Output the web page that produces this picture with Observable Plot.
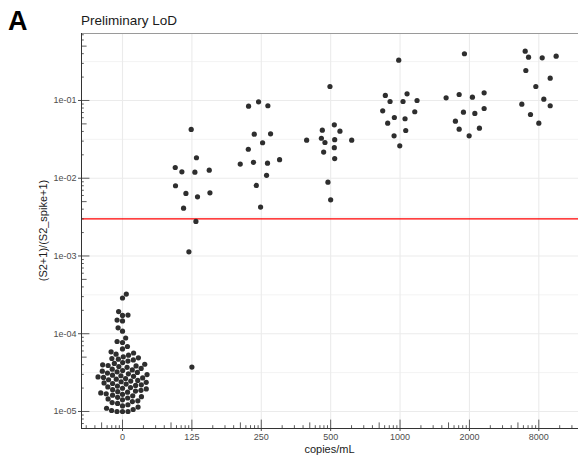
<!DOCTYPE html>
<html><head><meta charset="utf-8">
<script src="https://cdn.jsdelivr.net/npm/d3@7"></script>
<script src="https://cdn.jsdelivr.net/npm/@observablehq/plot@0.6"></script>
<style>
body{margin:0;background:#fff;}
#wrap{width:578px;height:456px;}
</style></head><body>
<div id="wrap"></div>
<script>
// ---------- data ----------
const categories = ["0", "125", "250", "500", "1000", "2000", "8000"];
const yTicks = [1e-5, 1e-4, 1e-3, 1e-2, 1e-1];
const yTickLabels = ["1e-05", "1e-04", "1e-03", "1e-02", "1e-01"];
const lod = 0.003;

// category "0" (beeswarm)
const vals0 = [
  3.24e-4, 2.88e-4, 1.93e-4, 1.74e-4, 1.72e-4, 1.50e-4, 1.46e-4, 1.19e-4, 1.08e-4,
  8.81e-5, 7.94e-5, 7.71e-5, 6.85e-5, 6.37e-5,
  5.85e-5, 5.65e-5, 5.45e-5, 5.3e-5,
  5.05e-5, 4.9e-5, 4.8e-5, 4.7e-5, 4.6e-5, 4.45e-5,
  4.25e-5, 4.15e-5, 4.05e-5, 3.98e-5, 3.9e-5, 3.85e-5, 3.78e-5, 3.7e-5,
  3.58e-5, 3.5e-5, 3.42e-5, 3.36e-5, 3.3e-5, 3.24e-5, 3.18e-5, 3.12e-5, 3.05e-5,
  2.98e-5, 2.93e-5, 2.88e-5, 2.83e-5, 2.78e-5, 2.74e-5, 2.7e-5, 2.65e-5, 2.6e-5, 2.56e-5,
  2.51e-5, 2.46e-5, 2.41e-5, 2.37e-5, 2.33e-5, 2.29e-5, 2.25e-5, 2.2e-5, 2.16e-5, 2.12e-5,
  2.07e-5, 2.03e-5, 1.99e-5, 1.95e-5, 1.91e-5, 1.87e-5, 1.83e-5, 1.8e-5, 1.77e-5,
  1.73e-5, 1.69e-5, 1.66e-5, 1.62e-5, 1.59e-5, 1.55e-5, 1.52e-5, 1.49e-5,
  1.45e-5, 1.41e-5, 1.37e-5, 1.34e-5, 1.3e-5, 1.27e-5,
  1.22e-5, 1.18e-5, 1.14e-5, 1.1e-5,
  1.06e-5, 1.03e-5, 1.0e-5, 1.0e-5, 1.0e-5
];

const vals125 = [0.0424, 0.01833, 0.01374, 0.0121, 0.01197, 0.0127, 0.008, 0.00637, 0.00577, 0.0065, 0.00412, 0.00278, 0.00113, 3.72e-5];
const jit125  = [-0.01, 0.066, -0.24, -0.144, 0.043, 0.25, -0.236, -0.086, 0.081, 0.26, -0.12, 0.058, -0.043, 0.0];

const vals250 = [0.0962, 0.0845, 0.0855, 0.0369, 0.0373, 0.0286, 0.0236, 0.0152, 0.016, 0.0156, 0.0173, 0.0109, 0.00807, 0.00425];
const jit250  = [-0.039, -0.183, 0.095, -0.101, 0.134, 0.019, -0.187, -0.303, -0.112, 0.09, 0.264, 0.076, -0.072, -0.01];

const vals500 = [0.1514, 0.0487, 0.0403, 0.0415, 0.0327, 0.0288, 0.0313, 0.0309, 0.0309, 0.0247, 0.0217, 0.0179, 0.00889, 0.00528];
const jit500  = [-0.01, 0.053, 0.134, -0.12, -0.134, -0.082, 0.058, -0.346, 0.303, 0.053, -0.101, 0.058, -0.039, 0.0];

const vals1000 = [0.33, 0.116, 0.1219, 0.0971, 0.0971, 0.1, 0.0737, 0.0716, 0.0604, 0.0582, 0.0511, 0.0411, 0.0351, 0.0261];
const jit1000  = [-0.019, -0.212, 0.101, -0.144, 0.043, 0.245, -0.25, 0.212, -0.082, 0.072, -0.178, 0.082, -0.086, -0.004];

const vals2000 = [0.399, 0.1083, 0.1194, 0.1102, 0.1256, 0.0789, 0.0707, 0.0681, 0.0542, 0.0428, 0.0441, 0.0351];
const jit2000  = [-0.072, -0.336, -0.148, 0.043, 0.212, 0.212, -0.086, 0.078, -0.202, -0.148, 0.144, -0.004];

const vals8000 = [0.431, 0.361, 0.354, 0.371, 0.243, 0.1936, 0.1514, 0.1039, 0.0896, 0.0855, 0.066, 0.0511];
const jit8000  = [-0.196, -0.148, 0.049, 0.25, -0.187, 0.164, -0.043, 0.072, -0.245, 0.164, -0.12, 0.0];

// ---------- layout ----------
const W = 578, H = 456, mt = 33, mb = 28, ml = 81, mr = 0;
const xDomain = [-0.591, 6.572];
const yDomain = [6.04e-6, 0.727];
const step = (W - ml - mr) / (xDomain[1] - xDomain[0]);
const decPx = (H - mb - mt) / Math.log10(yDomain[1] / yDomain[0]);
const yS = Plot.scale({y: {type: "log", domain: yDomain, range: [H - mb, mt]}});

// beeswarm for category 0
const dia = 5.5;
const sw = vals0.map(v => ({v, py: yS.apply(v)})).sort((a, b) => b.py - a.py);
const placed = [];
sw.forEach((p, idx) => {
  const pref = idx % 2 === 0 ? 1 : -1;
  const cands = [0];
  for (const q of placed) {
    const dy = Math.abs(q.py - p.py);
    if (dy < dia) { const o = Math.sqrt(dia * dia - dy * dy); cands.push(q.px + o, q.px - o); }
  }
  cands.sort((a, b) => (Math.abs(a) - Math.abs(b)) || (Math.sign(b) * pref - Math.sign(a) * pref));
  for (const c of cands) {
    if (placed.every(q => (q.px - c) ** 2 + (q.py - p.py) ** 2 >= dia * dia - 1e-6)) { p.px = c; break; }
  }
  placed.push(p);
});

const points = [];
for (const p of sw) points.push({x: 0 + p.px / step, v: p.v});
const groups = [[vals125, jit125], [vals250, jit250], [vals500, jit500], [vals1000, jit1000], [vals2000, jit2000], [vals8000, jit8000]];
groups.forEach(([vals, jit], g) => vals.forEach((v, j) => points.push({x: g + 1 + jit[j], v})));

// grid lines
const catIdx = categories.map((c, i) => i);
const gridMajor = [], gridMinor = [];
for (let k = -6; k <= 0; k++) {
  const a = Math.pow(10, k), b = Math.pow(10, k + 0.5);
  if (a >= yDomain[0] && a <= yDomain[1]) gridMajor.push(a);
  if (b >= yDomain[0] && b <= yDomain[1]) gridMinor.push(b);
}

// log ticks (annotation_logticks style)
const tickLen = m => m === 1 ? 8.4 : (m === 5 ? 5.6 : 2.8);
const yLogTicks = [];
for (let k = -6; k <= 0; k++) for (let m = 1; m <= 9; m++) {
  const v = m * Math.pow(10, k);
  if (v >= yDomain[0] && v <= yDomain[1]) yLogTicks.push({v, len: tickLen(m)});
}
const xLogTicks = [];
for (let i = -1; i <= 6; i++) for (let m = 1; m <= 9; m++) {
  const p = i + Math.log10(m);
  if (p >= xDomain[0] && p <= xDomain[1]) xLogTicks.push({p, len: tickLen(m)});
}

const chart = Plot.plot({
  width: W, height: H,
  marginTop: mt, marginBottom: mb, marginLeft: ml, marginRight: mr,
  style: {fontSize: "9px", fontFamily: "Liberation Sans, Arial, sans-serif", color: "#4d4d4d", background: "#fff"},
  x: {domain: xDomain, ticks: catIdx, tickFormat: d => categories[Math.round(d)], tickSize: 3, tickPadding: 2, label: null},
  y: {type: "log", domain: yDomain, ticks: yTicks, tickFormat: d => yTickLabels[yTicks.indexOf(d)], tickSize: 3, tickPadding: 2, label: null},
  marks: [
    Plot.ruleY(gridMinor, {stroke: "#ebebeb", strokeWidth: 0.6}),
    Plot.ruleY(gridMajor, {stroke: "#ebebeb", strokeWidth: 1.1}),
    Plot.ruleX(catIdx, {stroke: "#ebebeb", strokeWidth: 1.1}),
    Plot.ruleY([lod], {stroke: "#ff0000", strokeWidth: 1.2}),
    Plot.dot(points, {x: "x", y: "v", r: 2.6, fill: "#2e2e2e", stroke: "none"}),
    Plot.ruleY(yLogTicks, {y: "v", x1: xDomain[0], x2: d => xDomain[0] + d.len / step, stroke: "#333", strokeWidth: 0.8}),
    Plot.ruleX(xLogTicks, {x: "p", y1: yDomain[0], y2: d => yDomain[0] * Math.pow(10, d.len / decPx), stroke: "#333", strokeWidth: 0.8}),
    Plot.ruleY([yDomain[1]], {stroke: "#9a9a9a", strokeWidth: 1}),
    Plot.ruleX([xDomain[0]], {stroke: "#333", strokeWidth: 1}),
    Plot.ruleY([yDomain[0]], {stroke: "#333", strokeWidth: 1})
  ]
});
document.getElementById("wrap").appendChild(chart);

const svg = d3.select(chart);
const ff = "Liberation Sans, Arial, sans-serif";
svg.append("text").attr("x", 8).attr("y", 30).attr("text-anchor", "start").attr("font-family", ff).attr("font-size", 27).attr("font-weight", "bold").attr("fill", "#000").text("A");
svg.append("text").attr("x", 81).attr("y", 25).attr("text-anchor", "start").attr("font-family", ff).attr("font-size", 13.5).attr("fill", "#1a1a1a").text("Preliminary LoD");
svg.append("text").attr("transform", "translate(47,230.5) rotate(-90)").attr("text-anchor", "middle").attr("font-family", ff).attr("font-size", 11).attr("fill", "#1a1a1a").text("(S2+1)/(S2_spike+1)");
svg.append("text").attr("x", 329.5).attr("y", 453).attr("text-anchor", "middle").attr("font-family", ff).attr("font-size", 11).attr("fill", "#1a1a1a").text("copies/mL");
</script>
</body></html>
